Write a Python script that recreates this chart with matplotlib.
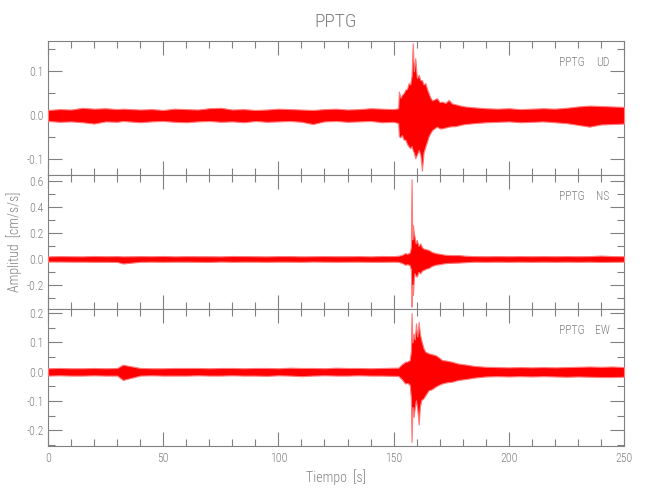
import matplotlib
matplotlib.use("Agg")
import matplotlib.pyplot as plt
from matplotlib.ticker import MultipleLocator, FormatStrFormatter

# ---------------- data (envelopes, cm/s/s) ----------------
pre_t = [0, 5, 10, 15, 20, 25, 30, 32.5, 40, 45, 50, 55, 60, 65, 70, 75, 80, 85,
         90, 95, 100, 105, 110, 115, 120, 125, 130, 135, 140, 145, 150]
post_t = [185, 190, 195, 200, 205, 210, 215, 220, 225, 230, 235, 240, 245, 250]

ud_pre_hi = [0.012, 0.014, 0.013, 0.017, 0.015, 0.016, 0.014, 0.015, 0.013, 0.014, 0.012,
             0.015, 0.014, 0.013, 0.016, 0.017, 0.013, 0.014, 0.012, 0.013, 0.015, 0.014,
             0.013, 0.012, 0.014, 0.015, 0.013, 0.014, 0.016, 0.015, 0.014]
ud_pre_lo = [-0.013, -0.015, -0.014, -0.016, -0.019, -0.014, -0.015, -0.013, -0.016, -0.014,
             -0.013, -0.015, -0.016, -0.014, -0.013, -0.015, -0.014, -0.016, -0.013, -0.015,
             -0.014, -0.013, -0.015, -0.02, -0.014, -0.013, -0.015, -0.014, -0.013, -0.016,
             -0.015]
ud_ev_t = [152.0, 152.3, 153.0, 153.6, 154.3, 155.1, 155.8, 156.5, 157.2, 157.8, 158.3,
           158.8, 159.4, 160.1, 160.9, 161.6, 162.3, 163.0, 163.8, 164.5, 165.2, 166.0,
           166.7, 167.7, 168.8, 170.0, 171.0, 172.5, 173.9, 175.3, 176.8, 179.0, 181.0]
ud_ev_hi = [0.016, 0.054, 0.04, 0.046, 0.05, 0.058, 0.06, 0.073, 0.07, 0.09, 0.164, 0.1,
            0.13, 0.085, 0.092, 0.08, 0.08, 0.07, 0.073, 0.06, 0.05, 0.04, 0.034, 0.036,
            0.039, 0.03, 0.031, 0.028, 0.035, 0.027, 0.025, 0.022, 0.02]
ud_ev_lo = [-0.018, -0.048, -0.05, -0.045, -0.055, -0.056, -0.065, -0.071, -0.075, -0.07,
            -0.08, -0.085, -0.098, -0.09, -0.079, -0.09, -0.126, -0.085, -0.071, -0.06,
            -0.048, -0.04, -0.034, -0.03, -0.026, -0.03, -0.03, -0.028, -0.026, -0.025,
            -0.025, -0.022, -0.02]
ud_post_hi = [0.018, 0.016, 0.015, 0.016, 0.014, 0.015, 0.016, 0.015, 0.017, 0.02, 0.022,
              0.021, 0.02, 0.019]
ud_post_lo = [-0.018, -0.016, -0.015, -0.014, -0.016, -0.015, -0.014, -0.016, -0.018, -0.022,
              -0.026, -0.021, -0.02, -0.019]

ns_pre_hi = [0.02, 0.022, 0.021, 0.02, 0.023, 0.021, 0.022, 0.02, 0.022, 0.021, 0.023, 0.02,
             0.022, 0.021, 0.021, 0.02, 0.023, 0.022, 0.021, 0.02, 0.022, 0.022, 0.02, 0.021,
             0.022, 0.021, 0.021, 0.022, 0.02, 0.023, 0.022]
ns_pre_lo = [-0.02, -0.02, -0.021, -0.021, -0.022, -0.022, -0.023, -0.035, -0.022, -0.021,
             -0.022, -0.021, -0.021, -0.022, -0.023, -0.02, -0.022, -0.021, -0.021, -0.022,
             -0.021, -0.021, -0.022, -0.02, -0.021, -0.022, -0.021, -0.021, -0.022, -0.022,
             -0.021]
ns_ev_t = [152.0, 153.5, 155.0, 156.0, 157.0, 157.5, 157.8, 158.1, 158.4, 158.8, 159.1,
           159.6, 160.1, 160.8, 161.6, 162.3, 163.0, 164.0, 165.2, 166.5, 168.1, 170.0,
           172.5, 175.0, 178.3, 181.0]
ns_ev_hi = [0.025, 0.03, 0.045, 0.04, 0.05, 0.09, 0.613, 0.15, 0.26, 0.2, 0.17, 0.12, 0.146,
            0.1, 0.12, 0.09, 0.08, 0.075, 0.07, 0.055, 0.045, 0.04, 0.032, 0.03, 0.03, 0.025]
ns_ev_lo = [-0.022, -0.03, -0.045, -0.04, -0.05, -0.08, -0.367, -0.2, -0.277, -0.15, -0.11,
            -0.13, -0.136, -0.1, -0.11, -0.09, -0.085, -0.075, -0.07, -0.055, -0.045, -0.04,
            -0.032, -0.03, -0.028, -0.025]
ns_post_hi = [0.022, 0.021, 0.022, 0.021, 0.022, 0.021, 0.022, 0.021, 0.022, 0.021, 0.022,
              0.026, 0.022, 0.021]
ns_post_lo = [-0.021, -0.022, -0.021, -0.022, -0.021, -0.022, -0.021, -0.022, -0.021, -0.022,
              -0.021, -0.023, -0.022, -0.021]

ew_pre_hi = [0.012, 0.013, 0.012, 0.012, 0.013, 0.012, 0.013, 0.024, 0.013, 0.012, 0.012,
             0.013, 0.013, 0.013, 0.012, 0.013, 0.013, 0.012, 0.013, 0.013, 0.012, 0.014,
             0.013, 0.013, 0.012, 0.014, 0.013, 0.013, 0.012, 0.013, 0.014]
ew_pre_lo = [-0.013, -0.012, -0.013, -0.013, -0.012, -0.013, -0.013, -0.028, -0.013, -0.012,
             -0.013, -0.013, -0.013, -0.012, -0.013, -0.013, -0.012, -0.013, -0.013, -0.014,
             -0.012, -0.013, -0.015, -0.013, -0.012, -0.013, -0.013, -0.012, -0.013, -0.013,
             -0.014]
ew_ev_t = [152.0, 153.5, 155.0, 156.0, 157.0, 157.5, 157.8, 158.2, 158.7, 159.2, 159.7,
           160.3, 160.9, 161.4, 162.0, 163.0, 163.8, 165.2, 166.5, 168.1, 169.5, 171.0,
           173.0, 175.4, 178.0, 181.0]
ew_ev_hi = [0.014, 0.025, 0.034, 0.035, 0.04, 0.07, 0.2, 0.1, 0.13, 0.11, 0.165, 0.12, 0.17,
            0.13, 0.108, 0.08, 0.068, 0.063, 0.06, 0.057, 0.05, 0.04, 0.038, 0.034, 0.028,
            0.025]
ew_ev_lo = [-0.014, -0.025, -0.04, -0.038, -0.045, -0.09, -0.239, -0.12, -0.154, -0.12,
            -0.097, -0.13, -0.18, -0.12, -0.097, -0.09, -0.08, -0.063, -0.06, -0.051, -0.045,
            -0.04, -0.036, -0.034, -0.028, -0.025]
ew_post_hi = [0.02, 0.017, 0.016, 0.015, 0.016, 0.015, 0.016, 0.015, 0.016, 0.017, 0.018,
              0.017, 0.018, 0.016]
ew_post_lo = [-0.02, -0.016, -0.015, -0.016, -0.015, -0.016, -0.015, -0.016, -0.017, -0.016,
              -0.017, -0.018, -0.018, -0.017]

station = "PPTG"
components = ["UD", "NS", "EW"]
ylims = [(-0.136, 0.169), (-0.385, 0.646), (-0.253, 0.214)]
major_y = [0.1, 0.2, 0.1]
minor_y = [0.05, 0.1, 0.05]
xmax = 250

# ---------------- style ----------------
GRAY = "#808080"
plt.rcParams['font.family'] = ['Roboto Condensed', 'Liberation Sans Narrow', 'Roboto',
                               'DejaVu Sans']
plt.rcParams['font.weight'] = 'light'
plt.rcParams['text.color'] = GRAY
plt.rcParams['axes.labelcolor'] = GRAY
plt.rcParams['axes.unicode_minus'] = True

fig = plt.figure(figsize=(6.5, 5.0), dpi=100)
left, width = 48 / 650, 576 / 650
rects = [(left, 0.65, width, 0.268), (left, 0.382, width, 0.268), (left, 0.108, width, 0.274)]

series = [
    (pre_t + ud_ev_t + post_t, ud_pre_hi + ud_ev_hi + ud_post_hi, ud_pre_lo + ud_ev_lo + ud_post_lo),
    (pre_t + ns_ev_t + post_t, ns_pre_hi + ns_ev_hi + ns_post_hi, ns_pre_lo + ns_ev_lo + ns_post_lo),
    (pre_t + ew_ev_t + post_t, ew_pre_hi + ew_ev_hi + ew_post_hi, ew_pre_lo + ew_ev_lo + ew_post_lo),
]

axes = []
for i, rect in enumerate(rects):
    ax = fig.add_axes(rect)
    t, hi, lo = series[i]
    ax.fill_between(t, lo, hi, color="#ff0000", lw=0.8, edgecolor="#ff7a7a",
                    clip_on=False, zorder=3)
    ax.set_xlim(0, xmax)
    ax.set_ylim(*ylims[i])
    ax.xaxis.set_major_locator(MultipleLocator(50))
    ax.xaxis.set_minor_locator(MultipleLocator(10))
    ax.yaxis.set_major_locator(MultipleLocator(major_y[i]))
    ax.yaxis.set_minor_locator(MultipleLocator(minor_y[i]))
    ax.tick_params(which='both', direction='in', top=True, right=True, colors=GRAY,
                   labelsize=8.5, width=0.8, pad=3)
    ax.tick_params(which='major', length=10)
    ax.tick_params(which='minor', length=5)
    ax.tick_params(axis='x', pad=4)
    for s in ax.spines.values():
        s.set_color(GRAY)
        s.set_linewidth(0.8)
    ax.yaxis.set_major_formatter(FormatStrFormatter('%.1f'))
    if i < 2:
        ax.tick_params(labelbottom=False)
    ax.text(0.91, 0.843, station, transform=ax.transAxes, ha='center', va='center',
            fontsize=8.5, color=GRAY)
    ax.text(0.963, 0.843, components[i], transform=ax.transAxes, ha='center', va='center',
            fontsize=8.5, color=GRAY)
    axes.append(ax)

fig.text(336 / 650, 0.956, station, ha='center', va='center', fontsize=14, color=GRAY)
fig.text(336 / 650, 1 - 477 / 500, "Tiempo  [s]", ha='center', va='center', fontsize=10,
         color=GRAY)
fig.text(14 / 650, 1 - 242 / 500, "Amplitud  [cm/s/s]", rotation=90, ha='center',
         va='center', fontsize=10, color=GRAY)

fig.savefig("out.png", dpi=100, facecolor="white")
